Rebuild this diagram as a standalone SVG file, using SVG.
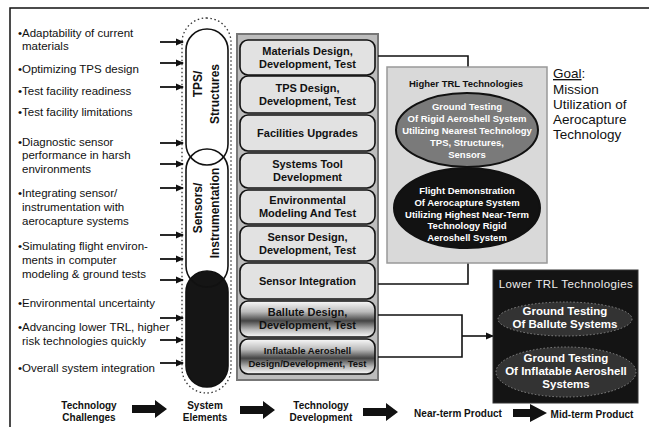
<svg xmlns="http://www.w3.org/2000/svg" width="649" height="427" viewBox="0 0 649 427">
<defs>
<style>
.ch{font-family:"Liberation Sans",Arial,sans-serif;font-size:11.5px;fill:#111}
.tb{font-family:"Liberation Sans",Arial,sans-serif;font-size:11px;font-weight:bold;fill:#111;text-anchor:middle}
.se{font-family:"Liberation Sans",Arial,sans-serif;font-size:12px;font-weight:bold;fill:#111;text-anchor:middle}
.wt{font-family:"Liberation Sans",Arial,sans-serif;font-size:9.5px;font-weight:bold;fill:#fff;text-anchor:middle}
.wl{font-family:"Liberation Sans",Arial,sans-serif;font-size:11.5px;font-weight:bold;fill:#fff;text-anchor:middle}
.bl{font-family:"Liberation Sans",Arial,sans-serif;font-size:10px;font-weight:bold;fill:#111;text-anchor:middle}
.goal{font-family:"Liberation Sans",Arial,sans-serif;font-size:13.5px;fill:#111}
.box{fill:#e2e2e2;stroke:#111;stroke-width:1.6}
.gbox{fill:url(#band);stroke:#111;stroke-width:1.6}
.conn{fill:none;stroke:#111;stroke-width:1.6}
.sa{stroke:#111;stroke-width:1.8;fill:none}
.fat{fill:#111}
</style>
<linearGradient id="band" x1="0" y1="0" x2="0" y2="1">
<stop offset="0" stop-color="#fafafa"/>
<stop offset="0.3" stop-color="#bbb"/>
<stop offset="0.55" stop-color="#444"/>
<stop offset="0.8" stop-color="#bbb"/>
<stop offset="1" stop-color="#fafafa"/>
</linearGradient>
<marker id="ah" markerWidth="8" markerHeight="8" refX="7" refY="4" orient="auto" markerUnits="userSpaceOnUse">
<path d="M0,0.5 L8,4 L0,7.5 Z" fill="#111"/>
</marker>
</defs>

<!-- frame -->
<g id="frame">
<path d="M10,427 V8 H649" fill="none" stroke="#111" stroke-width="1.5"/>
</g>

<!-- technology challenges -->
<g id="challenges">
<text class="ch" x="18" y="37">•Adaptability of current</text>
<text class="ch" x="22" y="50">materials</text>
<text class="ch" x="18" y="73">•Optimizing TPS design</text>
<text class="ch" x="18" y="95">•Test facility readiness</text>
<text class="ch" x="18" y="116">•Test facility limitations</text>
<text class="ch" x="18" y="146">•Diagnostic sensor</text>
<text class="ch" x="22" y="159">performance in harsh</text>
<text class="ch" x="22" y="173">environments</text>
<text class="ch" x="18" y="197">•Integrating sensor/</text>
<text class="ch" x="22" y="211">instrumentation with</text>
<text class="ch" x="22" y="225">aerocapture systems</text>
<text class="ch" x="18" y="250">•Simulating flight environ-</text>
<text class="ch" x="22" y="264">ments in computer</text>
<text class="ch" x="22" y="278">modeling &amp; ground tests</text>
<text class="ch" x="18" y="307">•Environmental uncertainty</text>
<text class="ch" x="18" y="331">•Advancing lower TRL, higher</text>
<text class="ch" x="22" y="345">risk technologies quickly</text>
<text class="ch" x="18" y="372">•Overall system integration</text>
</g>

<!-- system elements -->
<g id="system-elements">
<rect x="182" y="18" width="49" height="375" rx="24.5" fill="none" stroke="#333" stroke-width="1.3" stroke-dasharray="1.5,2.5"/>
<rect x="186" y="29" width="42" height="136" rx="21" fill="#fff"/>
<rect x="186" y="149" width="42" height="138" rx="21" fill="#fff"/>
<rect x="186" y="271" width="42" height="116" rx="21" fill="#151515"/>
<rect x="186" y="29" width="42" height="136" rx="21" fill="none" stroke="#111" stroke-width="1.6"/>
<rect x="186" y="149" width="42" height="138" rx="21" fill="none" stroke="#111" stroke-width="1.6"/>
<rect x="186" y="271" width="42" height="116" rx="21" fill="none" stroke="#111" stroke-width="1.6"/>
<text class="se" transform="translate(202,84) rotate(-90)">TPS/</text>
<text class="se" transform="translate(219,94) rotate(-90)">Structures</text>
<text class="se" transform="translate(202,208) rotate(-90)">Sensors/</text>
<text class="se" transform="translate(219,213) rotate(-90)">Instrumentation</text>
</g>

<!-- small arrows -->
<g id="challenge-arrows">
<path class="sa" marker-end="url(#ah)" d="M160,42 H183"/>
<path class="sa" marker-end="url(#ah)" d="M160,63 H183"/>
<path class="sa" marker-end="url(#ah)" d="M160,87 H183"/>
<path class="sa" marker-end="url(#ah)" d="M160,143 H183"/>
<path class="sa" marker-end="url(#ah)" d="M160,164 H183"/>
<path class="sa" marker-end="url(#ah)" d="M160,188 H183"/>
<path class="sa" marker-end="url(#ah)" d="M160,235 H183"/>
<path class="sa" marker-end="url(#ah)" d="M160,259 H183"/>
<path class="sa" marker-end="url(#ah)" d="M160,280 H183"/>
<path class="sa" marker-end="url(#ah)" d="M160,318 H183"/>
<path class="sa" marker-end="url(#ah)" d="M160,340 H183"/>
<path class="sa" marker-end="url(#ah)" d="M160,363 H183"/>
</g>

<!-- technology development column -->
<g id="tech-column">
<rect x="237" y="34" width="141" height="346" fill="#bdbdbd" stroke="#777" stroke-width="2"/>
</g>
<g id="t1"><rect class="box" x="240" y="40" width="135" height="35" rx="8"/><text class="tb" x="307.5" y="54.5">Materials Design,</text><text class="tb" x="307.5" y="67.5">Development, Test</text></g>
<g id="t2"><rect class="box" x="240" y="76" width="135" height="37" rx="8"/><text class="tb" x="307.5" y="91.5">TPS Design,</text><text class="tb" x="307.5" y="104.5">Development, Test</text></g>
<g id="t3"><rect class="box" x="240" y="115" width="135" height="36" rx="8"/><text class="tb" x="307.5" y="137">Facilities Upgrades</text></g>
<g id="t4"><rect class="box" x="240" y="153" width="135" height="35" rx="8"/><text class="tb" x="307.5" y="167.5">Systems Tool</text><text class="tb" x="307.5" y="180.5">Development</text></g>
<g id="t5"><rect class="box" x="240" y="190" width="135" height="34" rx="8"/><text class="tb" x="307.5" y="204">Environmental</text><text class="tb" x="307.5" y="217">Modeling And Test</text></g>
<g id="t6"><rect class="box" x="240" y="226" width="135" height="35" rx="8"/><text class="tb" x="307.5" y="240.5">Sensor Design,</text><text class="tb" x="307.5" y="253.5">Development, Test</text></g>
<g id="t7"><rect class="box" x="240" y="263" width="135" height="36" rx="8"/><text class="tb" x="307.5" y="285">Sensor Integration</text></g>
<g id="t8"><rect class="gbox" x="240" y="301" width="135" height="36" rx="8"/><text class="tb" x="307.5" y="316">Ballute Design,</text><text class="tb" x="307.5" y="329">Development, Test</text></g>
<g id="t9"><rect class="gbox" x="240" y="339" width="135" height="35" rx="8"/><text class="tb" x="307.5" y="353.5" style="font-size:9.5px">Inflatable Aeroshell</text><text class="tb" x="307.5" y="366.5" style="font-size:9.5px">Design/Development, Test</text></g>

<!-- connectors -->
<g id="connectors">
<path class="conn" d="M378,56 H468 V67"/>
<path class="conn" d="M378,284 H468 V263"/>
<path class="conn" d="M378,315 H462 V357 H378"/>
<path class="conn" marker-end="url(#ah)" d="M462,336 H493"/>
</g>

<!-- near-term product -->
<g id="near-term">
<rect x="387" y="67" width="160" height="196" fill="#d9d9d9" stroke="#999" stroke-width="1.5"/>
<text x="466" y="87" font-family="Liberation Sans, Arial, sans-serif" font-size="9.5" font-weight="bold" fill="#111" text-anchor="middle">Higher TRL Technologies</text>
<g id="rigid-ground">
<ellipse cx="467" cy="130" rx="71" ry="37" fill="#7a7a7a" stroke="#111" stroke-width="2"/>
<text class="wt" x="467" y="110">Ground Testing</text>
<text class="wt" x="467" y="122">Of Rigid Aeroshell System</text>
<text class="wt" x="467" y="134">Utilizing Nearest Technology</text>
<text class="wt" x="467" y="146">TPS, Structures,</text>
<text class="wt" x="467" y="158">Sensors</text>
</g>
<g id="flight-demo">
<ellipse cx="467" cy="208" rx="73" ry="40" fill="#121212" stroke="#111" stroke-width="2"/>
<text class="wt" x="467" y="194">Flight Demonstration</text>
<text class="wt" x="467" y="206">Of Aerocapture System</text>
<text class="wt" x="467" y="218">Utilizing Highest Near-Term</text>
<text class="wt" x="467" y="229">Technology Rigid</text>
<text class="wt" x="467" y="241">Aeroshell System</text>
</g>
</g>

<!-- goal -->
<g id="goal">
<text class="goal" x="553" y="78"><tspan text-decoration="underline">Goal</tspan>:</text>
<text class="goal" x="553" y="94">Mission</text>
<text class="goal" x="553" y="109">Utilization of</text>
<text class="goal" x="553" y="124">Aerocapture</text>
<text class="goal" x="553" y="139">Technology</text>
</g>

<!-- mid-term product -->
<g id="mid-term">
<rect x="493" y="270" width="145" height="133" fill="#141414" stroke="#333" stroke-width="1"/>
<text x="566" y="288" font-family="Liberation Sans, Arial, sans-serif" font-size="11.5" letter-spacing="0.4" fill="#eee" text-anchor="middle">Lower TRL Technologies</text>
<g id="ballute-ground">
<ellipse cx="565" cy="319" rx="67" ry="17" fill="#333" stroke="#888" stroke-width="1" stroke-dasharray="1.5,2"/>
<text class="wl" x="565" y="315">Ground Testing</text>
<text class="wl" x="565" y="328">Of Ballute Systems</text>
</g>
<g id="inflatable-ground">
<ellipse cx="566" cy="372" rx="70" ry="25" fill="#333" stroke="#888" stroke-width="1" stroke-dasharray="1.5,2"/>
<text class="wl" x="566" y="362">Ground Testing</text>
<text class="wl" x="566" y="375">Of Inflatable Aeroshell</text>
<text class="wl" x="566" y="388">Systems</text>
</g>
</g>

<!-- bottom flow -->
<g id="legend">
<text class="bl" x="89" y="409">Technology</text>
<text class="bl" x="89" y="421">Challenges</text>
<path class="fat" d="M132,405 H155 V400 L167,409 L155,418 V413 H132 Z"/>
<text class="bl" x="205" y="409">System</text>
<text class="bl" x="205" y="421">Elements</text>
<path class="fat" d="M240,406 H263 V401 L275,410 L263,419 V414 H240 Z"/>
<text class="bl" x="321" y="409">Technology</text>
<text class="bl" x="321" y="421">Development</text>
<path class="fat" d="M363,408 H386 V403 L398,412 L386,421 V416 H363 Z"/>
<text class="bl" x="458" y="417">Near-term Product</text>
<path class="fat" d="M513,409 H530 V404 L547,413 L530,422 V417 H513 Z"/>
<text class="bl" x="592" y="418">Mid-term Product</text>
</g>
</svg>
